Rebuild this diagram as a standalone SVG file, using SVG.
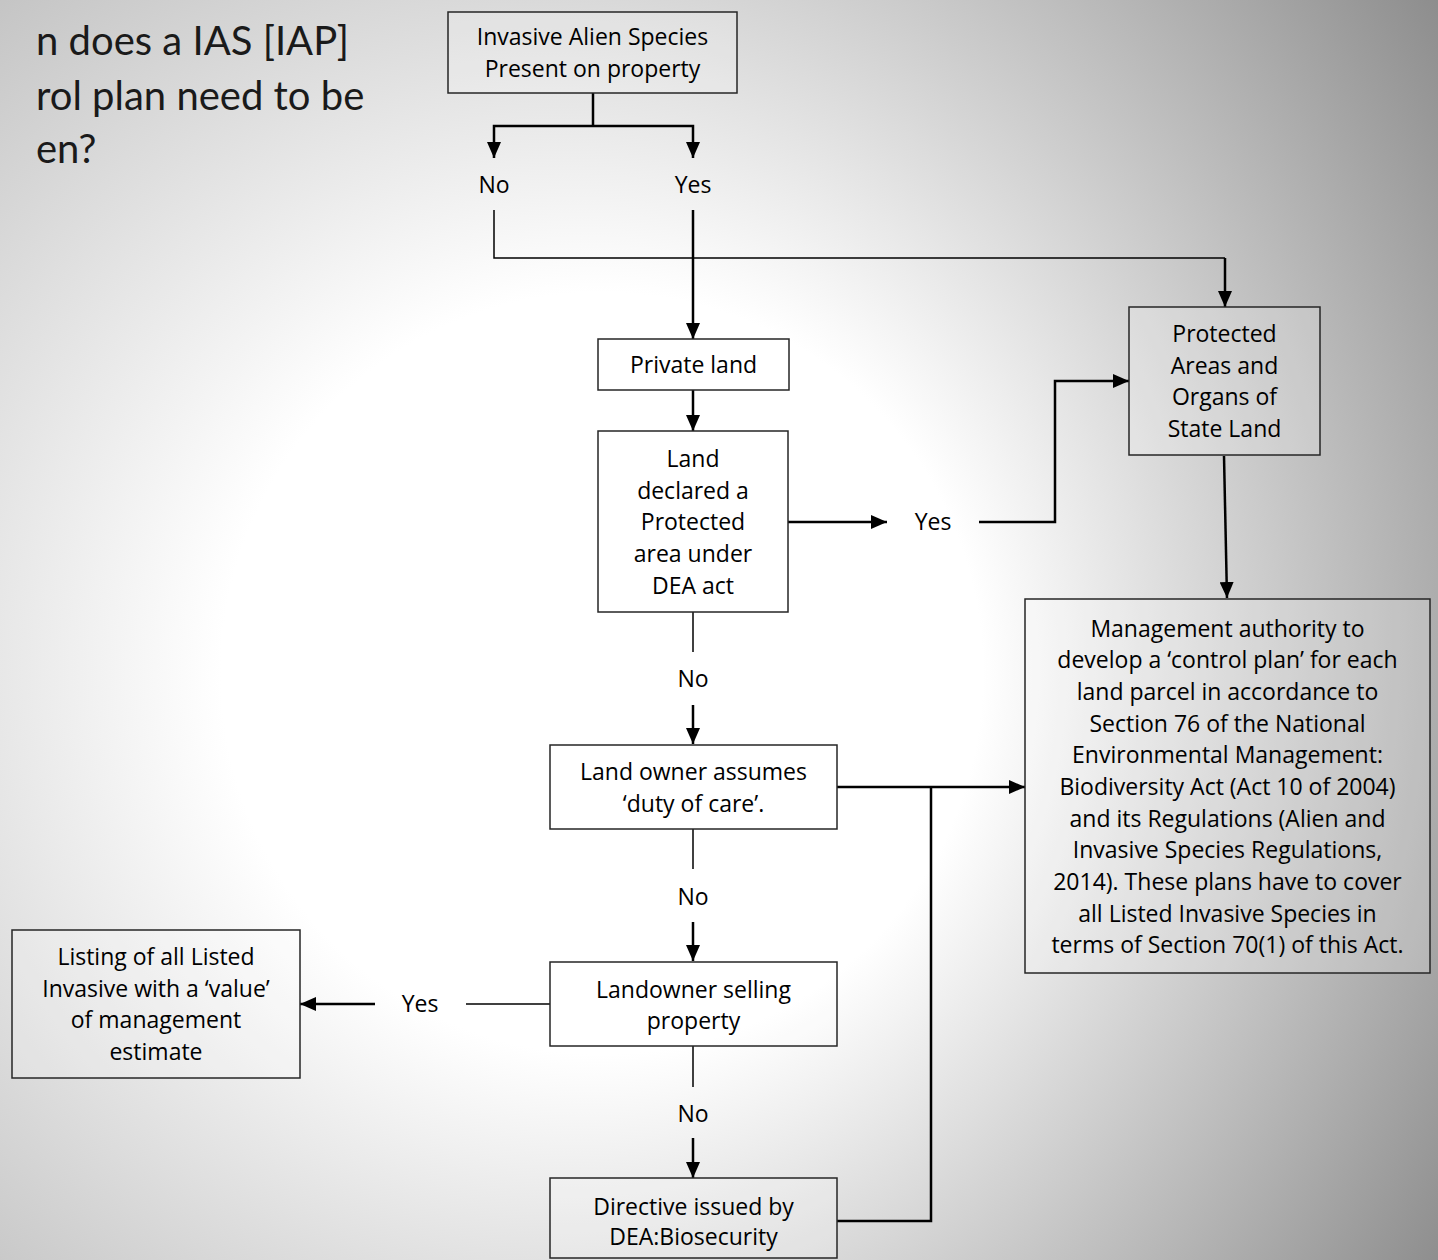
<svg xmlns="http://www.w3.org/2000/svg" width="1438" height="1260" viewBox="0 0 1438 1260">
<defs>
<radialGradient id="bg" gradientUnits="userSpaceOnUse" cx="350" cy="630" r="1360" fx="700" fy="690">
<stop offset="0" stop-color="#ffffff"/>
<stop offset="0.28" stop-color="#ffffff"/>
<stop offset="1" stop-color="#7c7c7c"/>
</radialGradient>
<marker id="ah" markerUnits="userSpaceOnUse" markerWidth="16" markerHeight="14" viewBox="0 0 16 14" refX="16" refY="7" orient="auto">
<path d="M0,0 L16,7 L0,14 z" fill="#000"/>
</marker>
<style>
.box{fill:#ffffff;fill-opacity:0.2;stroke:#262626;stroke-width:1.5}
.t{font-family:"Open Sans",Lato,"Liberation Sans",sans-serif;font-size:23px;fill:#000;text-anchor:middle}
.title{font-family:Lato,"Open Sans","Liberation Sans",sans-serif;font-size:40px;fill:#1a1a1a}
.c{fill:none;stroke:#000;stroke-width:2.5}
.thin{fill:none;stroke:#000;stroke-width:1.5}
.arr{marker-end:url(#ah)}
</style>
</defs>
<rect x="0" y="0" width="1438" height="1260" fill="url(#bg)"/>

<g id="title">
<text class="title" x="36" y="55">n does a IAS [IAP]</text>
<text class="title" x="36" y="110">rol plan need to be</text>
<text class="title" x="36" y="163">en?</text>
</g>

<g id="connectors">
<path class="c" d="M593,93 V126"/>
<path class="c arr" d="M593,126 H494 V158"/>
<path class="c arr" d="M593,126 H693 V158"/>
<path class="thin" d="M494,210 V258 H1225"/>
<path class="c arr" d="M1225,258 V307"/>
<path class="c arr" d="M693,210 V339"/>
<path class="c arr" d="M693,390 V431"/>
<path class="c arr" d="M788,522 H887"/>
<path class="c arr" d="M979,522 H1055 V381 H1129"/>
<path class="c arr" d="M1224,456 L1227,598"/>
<path class="thin" d="M693,612 V652"/>
<path class="c arr" d="M693,705 V744"/>
<path class="c arr" d="M837,787 H1025"/>
<path class="c" d="M837,1221 H931 V787"/>
<path class="thin" d="M693,829 V869"/>
<path class="c arr" d="M693,922 V961"/>
<path class="thin" d="M550,1004 H466"/>
<path class="c arr" d="M375,1004 H300"/>
<path class="thin" d="M693,1046 V1087"/>
<path class="c arr" d="M693,1138 V1178"/>
</g>

<g id="labels">
<text class="t" x="494" y="193">No</text>
<text class="t" x="693" y="193">Yes</text>
<text class="t" x="933" y="530">Yes</text>
<text class="t" x="693" y="687">No</text>
<text class="t" x="693" y="905">No</text>
<text class="t" x="420" y="1012">Yes</text>
<text class="t" x="693" y="1122">No</text>
</g>

<g id="n_ias">
<rect class="box" x="448" y="12" width="289" height="81"/>
<text class="t" x="592.5" y="45">Invasive Alien Species</text>
<text class="t" x="592.5" y="77">Present on property</text>
</g>

<g id="n_private">
<rect class="box" x="598" y="339" width="191" height="51"/>
<text class="t" x="693.5" y="373">Private land</text>
</g>

<g id="n_declared">
<rect class="box" x="598" y="431" width="190" height="181"/>
<text class="t" x="693" y="467">Land</text>
<text class="t" x="693" y="499">declared a</text>
<text class="t" x="693" y="530">Protected</text>
<text class="t" x="693" y="562">area under</text>
<text class="t" x="693" y="594">DEA act</text>
</g>

<g id="n_protected">
<rect class="box" x="1129" y="307" width="191" height="148"/>
<text class="t" x="1224.5" y="342">Protected</text>
<text class="t" x="1224.5" y="374">Areas and</text>
<text class="t" x="1224.5" y="405">Organs of</text>
<text class="t" x="1224.5" y="437">State Land</text>
</g>

<g id="n_management">
<rect class="box" x="1025" y="599" width="405" height="374"/>
<text class="t" x="1227.5" y="637">Management authority to</text>
<text class="t" x="1227.5" y="668">develop a ‘control plan’ for each</text>
<text class="t" x="1227.5" y="700">land parcel in accordance to</text>
<text class="t" x="1227.5" y="732">Section 76 of the National</text>
<text class="t" x="1227.5" y="763">Environmental Management:</text>
<text class="t" x="1227.5" y="795">Biodiversity Act (Act 10 of 2004)</text>
<text class="t" x="1227.5" y="827">and its Regulations (Alien and</text>
<text class="t" x="1227.5" y="858">Invasive Species Regulations,</text>
<text class="t" x="1227.5" y="890">2014). These plans have to cover</text>
<text class="t" x="1227.5" y="922">all Listed Invasive Species in</text>
<text class="t" x="1227.5" y="953">terms of Section 70(1) of this Act.</text>
</g>

<g id="n_landowner">
<rect class="box" x="550" y="745" width="287" height="84"/>
<text class="t" x="693.5" y="780">Land owner assumes</text>
<text class="t" x="693.5" y="812">‘duty of care’.</text>
</g>

<g id="n_selling">
<rect class="box" x="550" y="962" width="287" height="84"/>
<text class="t" x="693.5" y="998">Landowner selling</text>
<text class="t" x="693.5" y="1029">property</text>
</g>

<g id="n_directive">
<rect class="box" x="550" y="1178" width="287" height="80"/>
<text class="t" x="693.5" y="1215">Directive issued by</text>
<text class="t" x="693.5" y="1245">DEA:Biosecurity</text>
</g>

<g id="n_listing">
<rect class="box" x="12" y="930" width="288" height="148"/>
<text class="t" x="156" y="965">Listing of all Listed</text>
<text class="t" x="156" y="997">Invasive with a ‘value’</text>
<text class="t" x="156" y="1028">of management</text>
<text class="t" x="156" y="1060">estimate</text>
</g>
</svg>
